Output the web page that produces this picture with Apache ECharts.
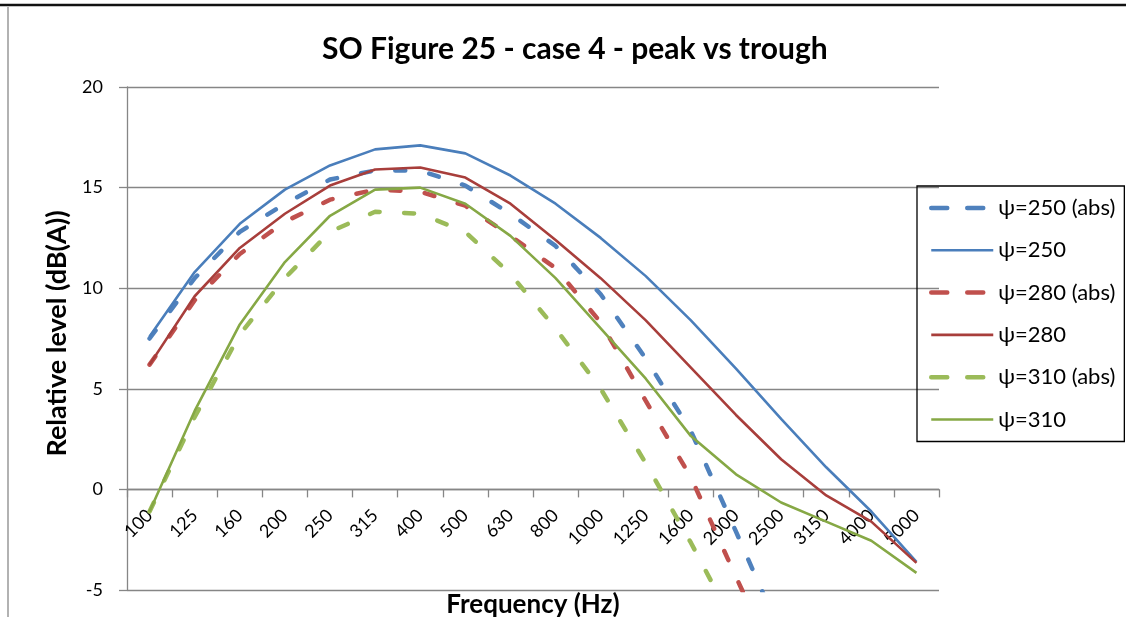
<!DOCTYPE html>
<html>
<head>
<meta charset="utf-8">
<script src="https://cdn.jsdelivr.net/npm/echarts@6/dist/echarts.min.js"></script>
<style>
html,body{margin:0;padding:0;background:#fff;}
#chart{width:1126px;height:617px;}
</style>
</head>
<body>
<div id="chart"></div>
<script>
const categories = ['100','125','160','200','250','315','400','500','630','800','1000','1250','1600','2000','2500','3150','4000','5000'];
const psi250abs = [7.5, 10.5, 12.8, 14.2, 15.4, 15.85, 15.85, 15.1, 13.7, 12.1, 9.7, 6.5, 2.9, -2.1, -7.2, null, null, null];
const psi250    = [7.6, 10.8, 13.2, 14.9, 16.1, 16.9, 17.1, 16.7, 15.6, 14.2, 12.5, 10.6, 8.4, 6.0, 3.5, 1.1, -1.1, -3.6];
const psi280abs = [6.2, 9.4, 11.7, 13.3, 14.4, 14.9, 14.8, 14.1, 12.6, 11.0, 8.3, 4.4, 0.6, -4.35, -9.2, null, null, null];
const psi280    = [6.2, 9.6, 12.0, 13.7, 15.1, 15.9, 16.0, 15.5, 14.2, 12.4, 10.5, 8.4, 6.05, 3.7, 1.5, -0.3, -1.6, -3.65];
const psi310abs = [-1.1, 3.6, 7.7, 10.5, 12.8, 13.8, 13.7, 12.8, 10.7, 8.0, 5.0, 1.3, -2.65, -6.9, null, null, null, null];
const psi310    = [-1.1, 3.9, 8.2, 11.3, 13.6, 14.9, 15.0, 14.2, 12.6, 10.5, 8.0, 5.5, 2.65, 0.75, -0.65, -1.6, -2.55, -4.15];
const yTicks = {min: -5, max: 20, step: 5};

const FONT = 'Lato';
const dashPattern = [10, 24.5];
const legendDash = [16, 20];

const GRID = {left: 127, right: 187, top: 87, bottom: 27};
const plotH = 617 - GRID.top - GRID.bottom;
// x axis crosses the value axis at 0 (as in the original); shift it up from the grid bottom
const xAxisOffset = -plotH * (0 - yTicks.min) / (yTicks.max - yTicks.min);

function dashed(name, data, color) {
  return {name, type: 'line', data, symbol: 'none', smooth: false, clip: true,
    lineStyle: {color, width: 4.5, type: dashPattern, cap: 'round'}, itemStyle: {color}};
}
function solid(name, data, color) {
  return {name, type: 'line', data, symbol: 'none', smooth: false, clip: true,
    lineStyle: {color, width: 2.6, type: 'solid'}, itemStyle: {color}};
}

const chart = echarts.init(document.getElementById('chart'), null, {renderer: 'canvas'});
chart.setOption({
  animation: false,
  backgroundColor: '#fff',
  textStyle: {fontFamily: FONT},
  title: {
    text: 'SO Figure 25 - case 4 - peak vs trough',
    left: 317, top: 29,
    textStyle: {fontFamily: FONT, fontWeight: 'bold', fontSize: 30, color: '#000'}
  },
  grid: Object.assign({containLabel: false, outerBoundsMode: 'none'}, GRID),
  legend: {
    orient: 'vertical', left: 917, top: 186,
    borderColor: '#000', borderWidth: 1.3,
    padding: [10, 9, 10, 12],
    itemWidth: 62, itemHeight: 14, itemGap: 18.3,
    itemStyle: {opacity: 0},
    textStyle: {fontFamily: FONT, fontSize: 22, color: '#000', lineHeight: 24},
    data: [
      {name: 'ψ=250 (abs)', lineStyle: {type: legendDash, width: 4.5, cap: 'round'}},
      {name: 'ψ=250', lineStyle: {width: 2.6}},
      {name: 'ψ=280 (abs)', lineStyle: {type: legendDash, width: 4.5, cap: 'round'}},
      {name: 'ψ=280', lineStyle: {width: 2.6}},
      {name: 'ψ=310 (abs)', lineStyle: {type: legendDash, width: 4.5, cap: 'round'}},
      {name: 'ψ=310', lineStyle: {width: 2.6}}
    ]
  },
  xAxis: {
    type: 'category', data: categories, boundaryGap: true,
    offset: xAxisOffset,
    name: 'Frequency (Hz)', nameLocation: 'middle', nameGap: 102,
    nameTextStyle: {fontFamily: FONT, fontWeight: 'bold', fontSize: 26, color: '#000'},
    axisLine: {onZero: false, lineStyle: {color: '#868686', width: 1.3}},
    axisTick: {show: true, interval: 0, length: 8, inside: false, lineStyle: {color: '#868686', width: 1.3}},
    axisLabel: {interval: 0, rotate: 45, margin: 23, fontSize: 18, color: '#000', fontFamily: FONT},
    splitLine: {show: false}
  },
  yAxis: {
    type: 'value', min: yTicks.min, max: yTicks.max, interval: yTicks.step,
    name: 'Relative level (dB(A))', nameLocation: 'middle', nameGap: 54,
    nameTextStyle: {fontFamily: FONT, fontWeight: 'bold', fontSize: 27, color: '#000', padding: [0, 0, 0, 10]},
    axisLine: {show: true, lineStyle: {color: '#868686', width: 1.3}},
    axisTick: {show: true, length: 8, lineStyle: {color: '#868686', width: 1.3}},
    axisLabel: {margin: 24, fontSize: 18, color: '#000', fontFamily: FONT},
    splitLine: {show: true, lineStyle: {color: '#868686', width: 1.3}}
  },
  series: [
    dashed('ψ=250 (abs)', psi250abs, '#4F81BD'),
    solid('ψ=250', psi250, '#4A7EBB'),
    dashed('ψ=280 (abs)', psi280abs, '#C0504D'),
    solid('ψ=280', psi280, '#A83E3B'),
    dashed('ψ=310 (abs)', psi310abs, '#9BBB59'),
    solid('ψ=310', psi310, '#86A845')
  ],
  graphic: [
    {type: 'line', silent: true, shape: {x1: 0, y1: 5, x2: 1126, y2: 5}, style: {stroke: '#111', lineWidth: 2.5}},
    {type: 'line', silent: true, shape: {x1: 8, y1: 7, x2: 8, y2: 617}, style: {stroke: '#999', lineWidth: 1.5}}
  ]
});
</script>
</body>
</html>
